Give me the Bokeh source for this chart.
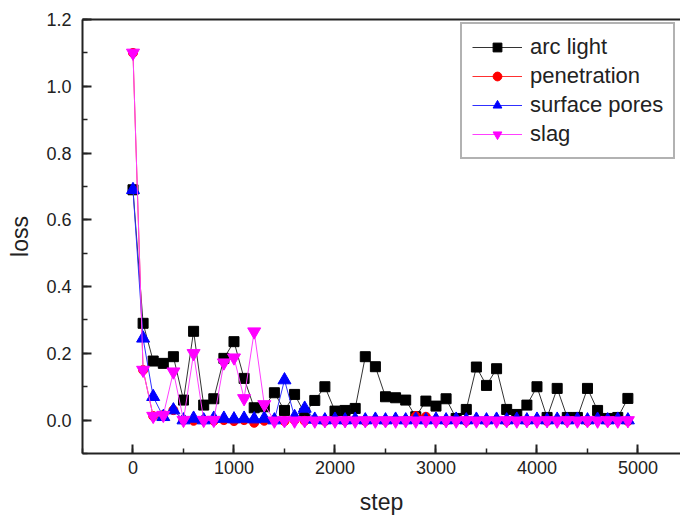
from bokeh.plotting import figure
from bokeh.models import (Legend, LegendItem, LinearAxis, SingleIntervalTicker, Range1d,
                          FixedTicker, CustomJSTickFormatter)
from bokeh.embed import file_html
from bokeh.resources import INLINE

steps = list(range(0, 5000, 100))

arc_light = [0.69, 0.29, 0.177, 0.17, 0.19, 0.06, 0.266, 0.045, 0.064, 0.185,
             0.235, 0.125, 0.037, 0.04, 0.082, 0.029, 0.077, 0.02, 0.059, 0.10,
             0.027, 0.029, 0.035, 0.19, 0.16, 0.07, 0.067, 0.06, 0.01, 0.057,
             0.042, 0.064, 0.005, 0.032, 0.159, 0.104, 0.154, 0.032, 0.017, 0.045,
             0.10, 0.008, 0.095, 0.008, 0.008, 0.095, 0.029, 0.005, 0.008, 0.065]

penetration = [1.1, 0.15, 0.012, 0.015, 0.03, 0.0, -0.002, 0.0, -0.002, 0.0,
               -0.003, 0.0, -0.008, -0.002, 0.0, -0.003, 0.0, -0.002, 0.0, -0.003,
               0.0, -0.002, 0.0, -0.003, 0.0, -0.002, 0.0, 0.0, 0.012, 0.01,
               0.0, -0.002, 0.0, -0.003, 0.0, -0.002, 0.0, -0.003, 0.0, -0.002,
               0.0, -0.003, 0.0, -0.002, 0.0, -0.003, 0.0, -0.002, 0.0, -0.003]

surface_pores = [0.69, 0.245, 0.07, 0.01, 0.03, 0.0, 0.005, 0.0, 0.005, 0.005,
                 0.003, 0.005, 0.003, 0.005, 0.0, 0.12, 0.01, 0.035, 0.002, 0.0,
                 0.002, 0.0, 0.002, 0.0, 0.002, 0.0, 0.002, 0.0, 0.002, 0.0,
                 0.002, 0.0, 0.002, 0.0, 0.002, 0.0, 0.002, 0.0, 0.002, 0.0,
                 0.002, 0.0, 0.002, 0.0, 0.002, 0.0, 0.002, 0.0, 0.002, 0.0]

slag = [1.1, 0.15, 0.012, 0.015, 0.145, 0.0, 0.2, 0.0, 0.0, 0.172,
        0.187, 0.065, 0.265, 0.047, -0.002, -0.001, -0.002, -0.001, -0.002, -0.001,
        -0.002, -0.001, -0.002, -0.001, -0.002, -0.001, -0.002, -0.001, -0.002, -0.001,
        -0.002, -0.001, -0.002, -0.001, -0.002, -0.001, -0.002, -0.001, -0.002, -0.001,
        -0.002, -0.001, -0.002, -0.001, -0.002, -0.001, -0.002, -0.001, -0.002, -0.001]

series_names = ["arc light", "penetration", "surface pores", "slag"]

FONT = "Liberation Sans"

p = figure(width=680, height=519, output_backend="svg", toolbar_location=None,
           x_range=Range1d(-500, 5421), y_range=Range1d(-0.1, 1.2001),
           min_border_left=82, min_border_right=0, min_border_top=19, min_border_bottom=66,
           x_axis_label="step", y_axis_label="loss")
p.outline_line_color = None
p.grid.grid_line_color = None
p.background_fill_color = "white"
p.border_fill_color = "white"

p.xaxis.ticker = SingleIntervalTicker(interval=1000, num_minor_ticks=2)
p.yaxis.ticker = SingleIntervalTicker(interval=0.2, num_minor_ticks=2)
p.yaxis.formatter = CustomJSTickFormatter(code="return tick.toFixed(1);")

for ax in [p.xaxis[0], p.yaxis[0]]:
    ax.axis_line_width = 2
    ax.axis_line_color = "#222222"
    ax.major_tick_in = 9
    ax.major_tick_out = 0
    ax.minor_tick_in = 5
    ax.minor_tick_out = 0
    ax.major_tick_line_width = 2
    ax.minor_tick_line_width = 1.5
    ax.major_tick_line_color = "#222222"
    ax.minor_tick_line_color = "#222222"
    ax.major_label_text_font = FONT
    ax.major_label_text_font_size = "18px"
    ax.major_label_text_color = "#222222"
    ax.axis_label_text_font = FONT
    ax.axis_label_text_font_size = "23px"
    ax.axis_label_text_font_style = "normal"
    ax.axis_label_text_color = "#222222"

p.yaxis.major_label_standoff = 11
p.xaxis.major_label_standoff = 7
p.yaxis.axis_label_standoff = 10
p.xaxis.axis_label_standoff = 12

top = LinearAxis(axis_line_width=2, axis_line_color="#222222",
                 ticker=FixedTicker(ticks=[], minor_ticks=[]),
                 major_tick_line_color=None, minor_tick_line_color=None,
                 major_label_standoff=0)
p.add_layout(top, "above")

colors = ["#000000", "#ff0000", "#0000ff", "#ff00ff"]
line_colors = ["#333333", "#ff3030", "#3030ff", "#ff40ff"]
markers = ["square", "circle", "triangle", "inverted_triangle"]
sizes = [10, 9, 13, 13]
datas = [arc_light, penetration, surface_pores, slag]

items = []
for name, d, c, lc, m, s in zip(series_names, datas, colors, line_colors, markers, sizes):
    lr = p.line(steps, d, line_color=lc, line_width=1)
    sr = p.scatter(steps, d, marker=m, size=s, fill_color=c, line_color=c)
    items.append(LegendItem(label=name, renderers=[lr, sr]))

legend = Legend(items=items, location=(378, 294))
legend.label_text_font = FONT
legend.label_text_font_size = "22px"
legend.label_text_color = "#222222"
legend.glyph_width = 50
legend.glyph_height = 22
legend.label_height = 22
legend.spacing = 3
legend.padding = 10
legend.margin = 0
legend.label_standoff = 8
legend.border_line_color = "#666666"
legend.border_line_width = 2
legend.background_fill_color = "white"
legend.background_fill_alpha = 1.0
p.add_layout(legend)

open("out.html", "w").write(file_html(p, INLINE))
